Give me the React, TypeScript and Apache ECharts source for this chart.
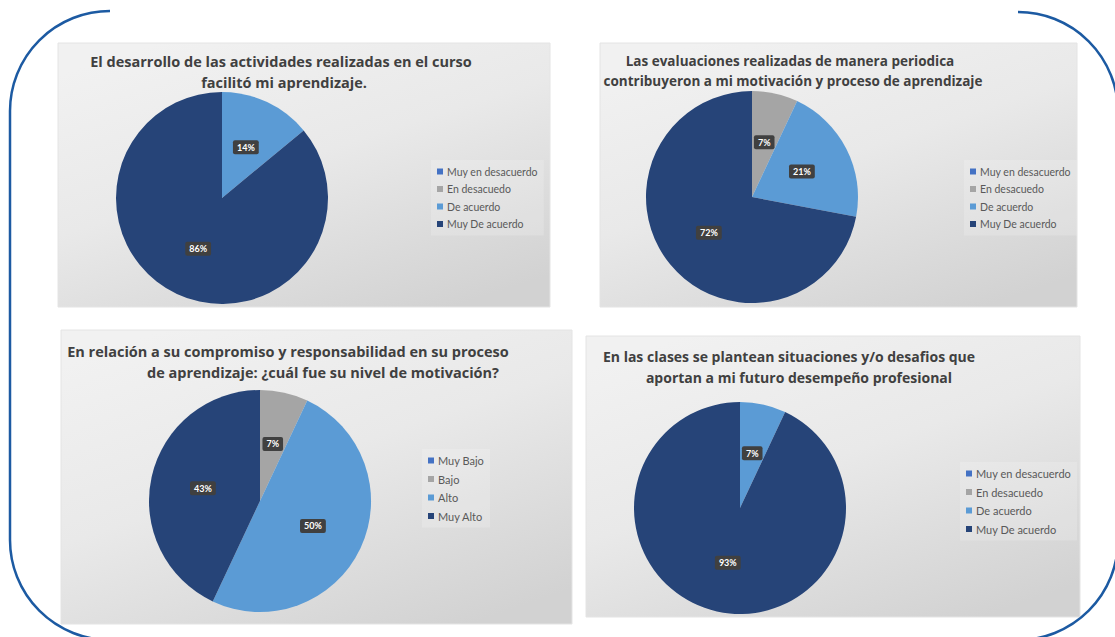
import React, { useEffect, useRef } from "react";
import * as echarts from "echarts";

const agreeCategories = ["Muy en desacuerdo", "En desacuedo", "De acuerdo", "Muy De acuerdo"];
const motivationCategories = ["Muy Bajo", "Bajo", "Alto", "Muy Alto"];

const pie1Values = [0, 0, 14, 86];
const pie2Values = [0, 7, 21, 72];
const pie3Values = [0, 7, 50, 43];
const pie4Values = [0, 0, 7, 93];

const title1 = ["El desarrollo de las actividades realizadas en el curso", "facilitó mi aprendizaje."];
const title2 = ["Las evaluaciones realizadas de manera periodica", "contribuyeron a mi motivación y proceso de aprendizaje"];
const title3 = ["En relación a su compromiso y responsabilidad en su proceso", "de aprendizaje: ¿cuál fue su nivel de motivación?"];
const title4 = ["En las clases se plantean situaciones y/o desafios que", "aportan a mi futuro desempeño profesional"];

const sliceColors = ["#4472C4", "#A5A5A5", "#5B9BD5", "#264478"];

const FONT = "Lato, 'Open Sans', sans-serif";
const TITLE_FONT = "'Open Sans', Lato, sans-serif";

export default function App() {
  const ref = useRef<HTMLDivElement>(null);

  useEffect(() => {
    if (!ref.current) return;
    const chart = echarts.init(ref.current, null, { renderer: "svg" });

    const panel = (x: number, y: number, w: number, h: number) => ({
      type: "rect",
      shape: { x, y, width: w, height: h },
      z: -10,
      silent: true,
      style: {
        fill: {
          type: "linear",
          x: 0.2,
          y: 0,
          x2: 0.8,
          y2: 1,
          colorStops: [
            { offset: 0, color: "#f1f1f1" },
            { offset: 0.45, color: "#e9e9e9" },
            { offset: 1, color: "#d2d2d2" },
          ],
        },
        stroke: "#e4e4e4",
        lineWidth: 1,
      },
    });

    const titleText = (text: string, x: number, y: number, size: number) => ({
      type: "text",
      x,
      y,
      silent: true,
      style: {
        text,
        fill: "#404040",
        font: `bold ${size}px ${TITLE_FONT}`,
        textAlign: "center",
        textVerticalAlign: "middle",
      },
    });

    const frameStyle = { stroke: "#1c5aa2", lineWidth: 2.5, fill: "none" };
    const arc = (cx: number, cy: number, r: number, s: number, e: number) => ({
      type: "arc",
      shape: { cx, cy, r, startAngle: s, endAngle: e, clockwise: true },
      style: frameStyle,
      silent: true,
    });

    const makePie = (name: string, cats: string[], vals: number[], center: number[], radius: number) => ({
      type: "pie",
      name,
      center,
      radius,
      startAngle: 90,
      clockwise: true,
      minShowLabelAngle: 1,
      avoidLabelOverlap: false,
      label: {
        show: true,
        position: "inside",
        formatter: "{c}%",
        color: "#ffffff",
        fontSize: 9,
        fontWeight: "bold",
        fontFamily: FONT,
        backgroundColor: "#404040",
        padding: [3, 4, 2, 4],
        borderRadius: 2,
      },
      labelLine: { show: false },
      emphasis: { disabled: true },
      data: cats.map((c, i) => ({
        name: c,
        value: vals[i],
        itemStyle: { color: sliceColors[i] },
        label: vals[i] === 0 ? { show: false } : undefined,
      })),
    });

    const makeLegend = (cats: string[], left: number, top: number, size: number, gap: number) => ({
      orient: "vertical",
      left,
      top,
      padding: [6, 6, 6, 6],
      backgroundColor: "rgba(255,255,255,0.18)",
      itemWidth: 6,
      itemHeight: 6,
      itemGap: gap,
      icon: "rect",
      selectedMode: false,
      data: cats,
      textStyle: { fontSize: size, color: "#595959", fontFamily: FONT, padding: [0, 0, 0, -1] },
    });

    chart.setOption({
      animation: false,
      backgroundColor: "#ffffff",
      legend: [
        makeLegend(agreeCategories, 431, 160, 10.5, 6.5),
        makeLegend(agreeCategories, 964, 160, 10.5, 6.5),
        makeLegend(motivationCategories, 422, 449, 11, 7.5),
        makeLegend(agreeCategories, 960, 462, 11, 7.5),
      ],
      series: [
        makePie("p1", agreeCategories, pie1Values, [222, 198], 106),
        makePie("p2", agreeCategories, pie2Values, [752, 197], 106),
        makePie("p3", motivationCategories, pie3Values, [260, 501], 111),
        makePie("p4", agreeCategories, pie4Values, [740, 508], 106),
      ],
      graphic: [
        panel(58, 43, 492, 264),
        panel(600, 43, 477, 264),
        panel(61, 330, 511, 294),
        panel(586, 336, 494, 281),
        titleText(title1[0], 281, 61, 14.5),
        titleText(title1[1], 284, 82, 14.5),
        titleText(title2[0], 790, 61, 13.5),
        titleText(title2[1], 793, 81, 13.5),
        titleText(title3[0], 288, 351, 14.5),
        titleText(title3[1], 323, 372, 14.5),
        titleText(title4[0], 789, 356, 14),
        titleText(title4[1], 799, 377, 14),
        arc(110, 111, 100, Math.PI, Math.PI * 1.5),
        arc(1018, 112, 100, Math.PI * 1.5, Math.PI * 2),
        arc(1018, 540, 100, 0, Math.PI * 0.5),
        arc(110, 540, 100, Math.PI * 0.5, Math.PI),
        {
          type: "line",
          shape: { x1: 10, y1: 111, x2: 10, y2: 540 },
          style: frameStyle,
          silent: true,
        },
      ],
    });

    return () => chart.dispose();
  }, []);

  return (
    <div
      ref={ref}
      style={{ position: "fixed", left: 0, top: 0, width: 1115, height: 637 }}
    />
  );
}
